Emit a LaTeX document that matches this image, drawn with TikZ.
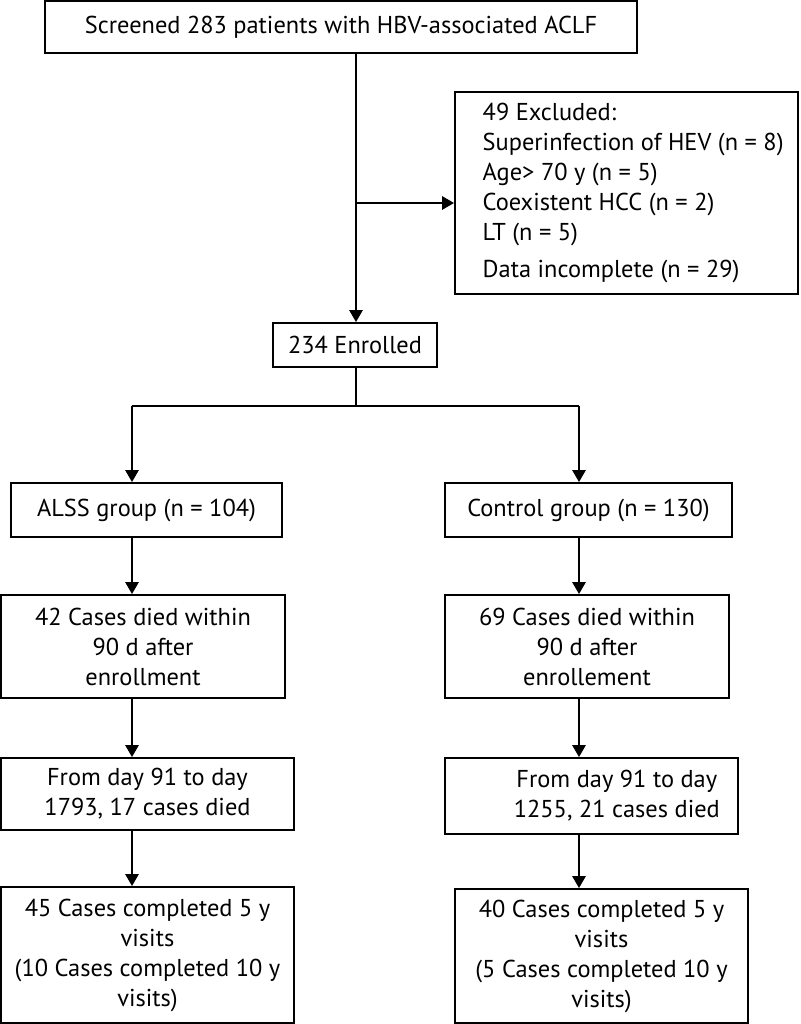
\documentclass[tikz,border=0pt]{standalone}
\usepackage{fontspec}
\setmainfont{PT Sans}
\usetikzlibrary{arrows.meta}
\begin{document}
\begin{tikzpicture}[x=0.75pt,y=-0.75pt,
  box/.style={draw=black, line width=1.4pt, rectangle, inner sep=0pt,
    font=\fontsize{18.3}{22.5}\selectfont, align=center},
  arr/.style={line width=1.4pt, -{Triangle[length=9pt,width=10pt]}},
  ln/.style={line width=1.4pt}]
\useasboundingbox (0,0) rectangle (800,1024);
\fill[white] (0,0) rectangle (800,1024);

\node[box, minimum width=444pt, minimum height=39pt] (top) at (341,27)
  {Screened 283 patients with HBV-associated ACLF};
\node[box, minimum width=257.25pt, minimum height=151.5pt] (excl) at (626.5,193)
  {\begin{tabular}{@{\hspace{10pt}}l@{}}
   49 Excluded:\\
   Superinfection of HEV (n = 8)\\
   Age> 70 y (n = 5)\\
   Coexistent HCC (n = 2)\\
   LT (n = 5)\\[5pt]
   Data incomplete (n = 29)
   \end{tabular}};
\node[box, minimum width=123pt, minimum height=33pt] (enr) at (355,345)
  {234 Enrolled};
\node[box, minimum width=203.25pt, minimum height=40.5pt] (alss) at (146.5,510)
  {ALSS group (n = 104)};
\node[box, minimum width=215.25pt, minimum height=40.5pt] (ctrl) at (588.5,510)
  {Control group (n = 130)};
\node[box, minimum width=213pt, minimum height=77.25pt] (dl) at (143,646.5)
  {42 Cases died within\\90 d after\\enrollment};
\node[box, minimum width=213pt, minimum height=77.25pt] (dr) at (587,646.5)
  {69 Cases died within\\90 d after\\enrollement};
\node[box, minimum width=219.75pt, minimum height=54pt] (fl) at (147.5,794)
  {From day 91 to day\\1793, 17 cases died};
\node[box, minimum width=219.75pt, minimum height=57pt] (fr) at (591.5,796)
  {\hspace*{38pt}From day 91 to day\\\hspace*{38pt}1255, 21 cases died};
\node[box, minimum width=219.75pt, minimum height=102pt] (cl5) at (147.5,955)
  {45 Cases completed 5 y\\visits\\(10 Cases completed 10 y\\visits)};
\node[box, minimum width=219.75pt, minimum height=100.5pt] (cr5) at (601.5,956)
  {40 Cases completed 5 y\\visits\\(5 Cases completed 10 y\\visits)};

\coordinate (trunk) at (356,203);
\coordinate (bl) at (132,406);
\coordinate (br) at (579,406);

\draw[arr] (trunk |- top.south) -- (trunk |- enr.north);
\draw[arr] (trunk) -- (excl.west |- trunk);
\draw[ln] (trunk |- enr.south) -- (trunk |- bl);
\draw[ln] (bl) -- (br);
\draw[arr] (bl) -- (bl |- alss.north);
\draw[arr] (br) -- (br |- ctrl.north);
\draw[arr] (bl |- alss.south) -- (bl |- dl.north);
\draw[arr] (br |- ctrl.south) -- (br |- dr.north);
\draw[arr] (bl |- dl.south) -- (bl |- fl.north);
\draw[arr] (br |- dr.south) -- (br |- fr.north);
\draw[arr] (bl |- fl.south) -- (bl |- cl5.north);
\draw[arr] (br |- fr.south) -- (br |- cr5.north);
\end{tikzpicture}
\end{document}
